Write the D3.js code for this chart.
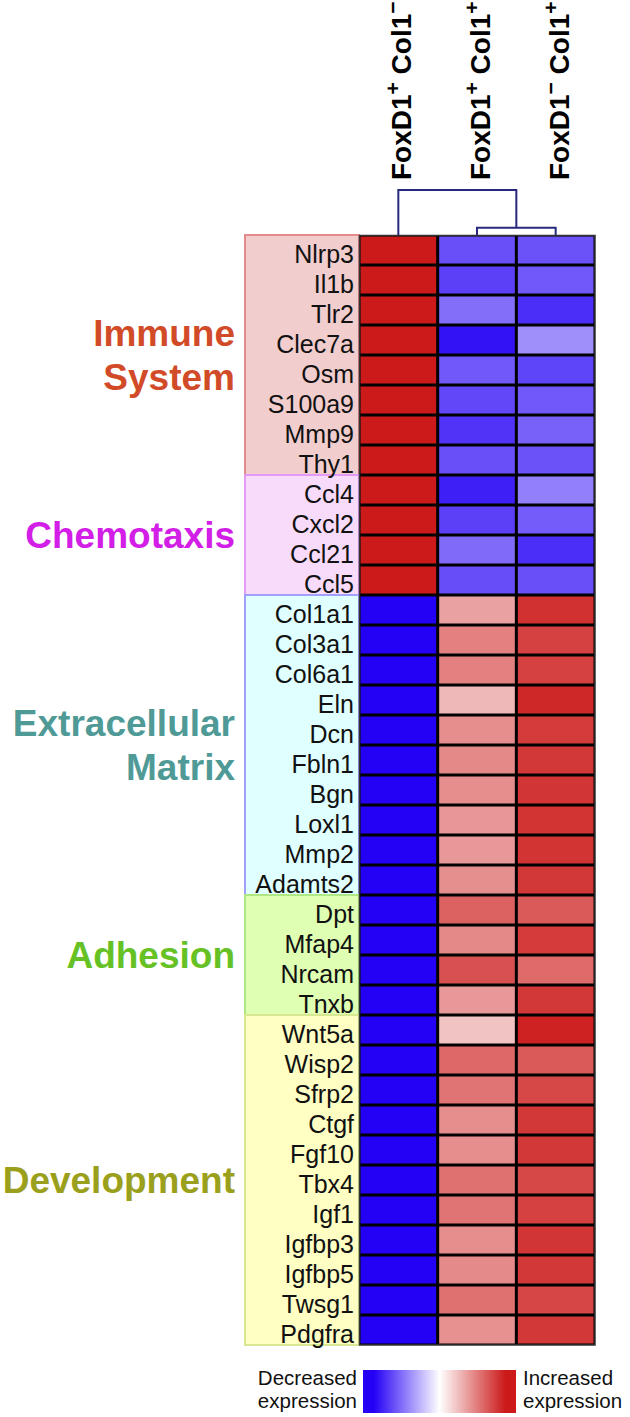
<!DOCTYPE html>
<html><head><meta charset="utf-8">
<script src="https://cdn.jsdelivr.net/npm/d3@7/dist/d3.min.js"></script>
<style>body{margin:0;background:#fff}svg{display:block}</style>
</head><body>
<svg id="c" width="630" height="1417"></svg>
<script>
const columns = ["c1","c2","c3"];
const genes = ["Nlrp3","Il1b","Tlr2","Clec7a","Osm","S100a9","Mmp9","Thy1",
  "Ccl4","Cxcl2","Ccl21","Ccl5",
  "Col1a1","Col3a1","Col6a1","Eln","Dcn","Fbln1","Bgn","Loxl1","Mmp2","Adamts2",
  "Dpt","Mfap4","Nrcam","Tnxb",
  "Wnt5a","Wisp2","Sfrp2","Ctgf","Fgf10","Tbx4","Igf1","Igfbp3","Igfbp5","Twsg1","Pdgfra"];
// relative expression (-1 decreased ... +1 increased)
const col1 = [1,1,1,1,1,1,1,1, 1,1,1,1, -1,-1,-1,-1,-1,-1,-1,-1,-1,-1, -1,-1,-1,-1, -1,-1,-1,-1,-1,-1,-1,-1,-1,-1,-1];
const col2 = [-0.69,-0.75,-0.57,-0.93,-0.65,-0.72,-0.8,-0.69,
  -0.88,-0.75,-0.58,-0.7,
  0.41,0.55,0.55,0.31,0.5,0.52,0.5,0.46,0.45,0.49,
  0.69,0.52,0.76,0.45,
  0.26,0.66,0.61,0.5,0.5,0.62,0.61,0.5,0.51,0.62,0.48];
const col3 = [-0.68,-0.65,-0.82,-0.44,-0.73,-0.65,-0.62,-0.68,
  -0.5,-0.64,-0.82,-0.69,
  0.9,0.83,0.83,0.94,0.85,0.87,0.88,0.89,0.89,0.87,
  0.72,0.85,0.65,0.87,
  0.97,0.72,0.8,0.87,0.87,0.8,0.83,0.88,0.87,0.81,0.87];
const headerMain = [["FoxD1","+"," Col1","\u2212"],["FoxD1","+"," Col1","+"],["FoxD1","\u2212"," Col1","+"]];
const groupNames = [["Immune","System"],["Chemotaxis"],["Extracellular","Matrix"],["Adhesion"],["Development"]];
const groupSizes = [8,4,10,4,11];
const groupText = ["#d24b28","#d21ee6","#4f9a96","#66c224","#9ba01c"];
const groupFill = ["#f1cdcd","#f8dbfa","#e0ffff","#dfffb2","#ffffc4"];
const groupStroke = ["#e48a8a","#e39af4","#a2a0ff","#aee884","#d8e892"];
// dendrogram: merge heights (leaf = 0)
const merges = [{a:1,b:2,h:0.16},{a:0,b:"m0",h:1}];

const FONT = "'Liberation Sans', Arial, Helvetica, sans-serif";
const svg = d3.select("#c");
const x = d3.scaleBand().domain(columns).range([359,595]);
const y = d3.scaleBand().domain(genes).range([235,1345]);
const color = d3.scaleLinear().domain([-1,0,1]).range(["#2400f5","#ffffff","#cc1a1a"]);
const vals = [col1,col2,col3];

// group boxes
let start = 0;
groupSizes.forEach((n,i)=>{
  const g0 = genes[start], g1 = genes[start+n-1];
  const top = y(g0), bot = y(g1)+y.bandwidth();
  svg.append("rect").attr("x",245).attr("y",top).attr("width",359-245).attr("height",bot-top)
    .attr("fill",groupFill[i]).attr("stroke",groupStroke[i]).attr("stroke-width",2);
  const mid = (top+bot)/2;
  const lines = groupNames[i];
  const lh = 44;
  lines.forEach((t,j)=>{
    svg.append("text").attr("x",235).attr("y",mid + 13 + (j-(lines.length-1)/2)*lh)
      .attr("text-anchor","end").attr("font-family",FONT).attr("font-weight","bold")
      .attr("font-size",37).attr("fill",groupText[i]).text(t);
  });
  start += n;
});

// gene labels
svg.append("g").selectAll("text").data(genes).join("text")
  .attr("x",354).attr("y",d=>y(d)+y.bandwidth()-2).attr("text-anchor","end")
  .attr("font-family",FONT).attr("font-size",25).attr("fill","#111").text(d=>d);

// cells
const cells = [];
columns.forEach((c,ci)=>genes.forEach((g,gi)=>cells.push({c,g,v:vals[ci][gi]})));
svg.append("rect").attr("x",359).attr("y",235).attr("width",236).attr("height",1110).attr("fill","#000");
svg.append("g").selectAll("rect").data(cells).join("rect")
  .attr("x",d=>x(d.c)+1.5).attr("y",d=>y(d.g)+1.5)
  .attr("width",x.bandwidth()-3).attr("height",y.bandwidth()-3)
  .attr("fill",d=>color(d.v));
svg.append("rect").attr("x",359.5).attr("y",235.5).attr("width",235.5).attr("height",1109.5)
  .attr("fill","none").attr("stroke","#333").attr("stroke-width",1.5);

// dendrogram
const hy = d3.scaleLinear().domain([0,1]).range([235,190]);
const nodes = {};
columns.forEach((c,i)=>nodes[i]={x:x(c)+x.bandwidth()/2,h:0});
merges.forEach((m,i)=>{
  const A = nodes[m.a], B = nodes[m.b];
  svg.append("path").attr("d",`M${A.x},${hy(A.h)}V${hy(m.h)}H${B.x}V${hy(B.h)}`)
    .attr("fill","none").attr("stroke","#28287e").attr("stroke-width",2);
  nodes["m"+i] = {x:(A.x+B.x)/2,h:m.h};
});

// column headers
headerMain.forEach((parts,i)=>{
  const cx = x(columns[i])+x.bandwidth()/2;
  const t = svg.append("text").attr("transform",`translate(${cx+13},180) rotate(-90)`)
    .attr("font-family",FONT).attr("font-weight","bold").attr("font-size",28).attr("fill","#000");
  t.append("tspan").text(parts[0]);
  t.append("tspan").attr("font-size",21).attr("dy",-11).text(parts[1]);
  t.append("tspan").attr("dy",11).text(parts[2]);
  t.append("tspan").attr("font-size",21).attr("dy",-11).text(parts[3]);
});

// legend
const defs = svg.append("defs");
const grad = defs.append("linearGradient").attr("id","lg");
const stops = [[0,-1],[0.07,-1],[0.5,0],[0.93,1],[1,1]];
grad.selectAll("stop").data(stops).join("stop")
  .attr("offset",d=>d[0]).attr("stop-color",d=>color(d[1]));
svg.append("rect").attr("x",363).attr("y",1370).attr("width",153).attr("height",43).attr("fill","url(#lg)");
[["Decreased","expression",357,"end"],["Increased","expression",523,"start"]].forEach(d=>{
  [d[0],d[1]].forEach((t,j)=>{
    svg.append("text").attr("x",d[2]).attr("y",1385+j*23).attr("text-anchor",d[3])
      .attr("font-family",FONT).attr("font-size",20.5).attr("fill","#111").text(t);
  });
});
</script>
</body></html>
